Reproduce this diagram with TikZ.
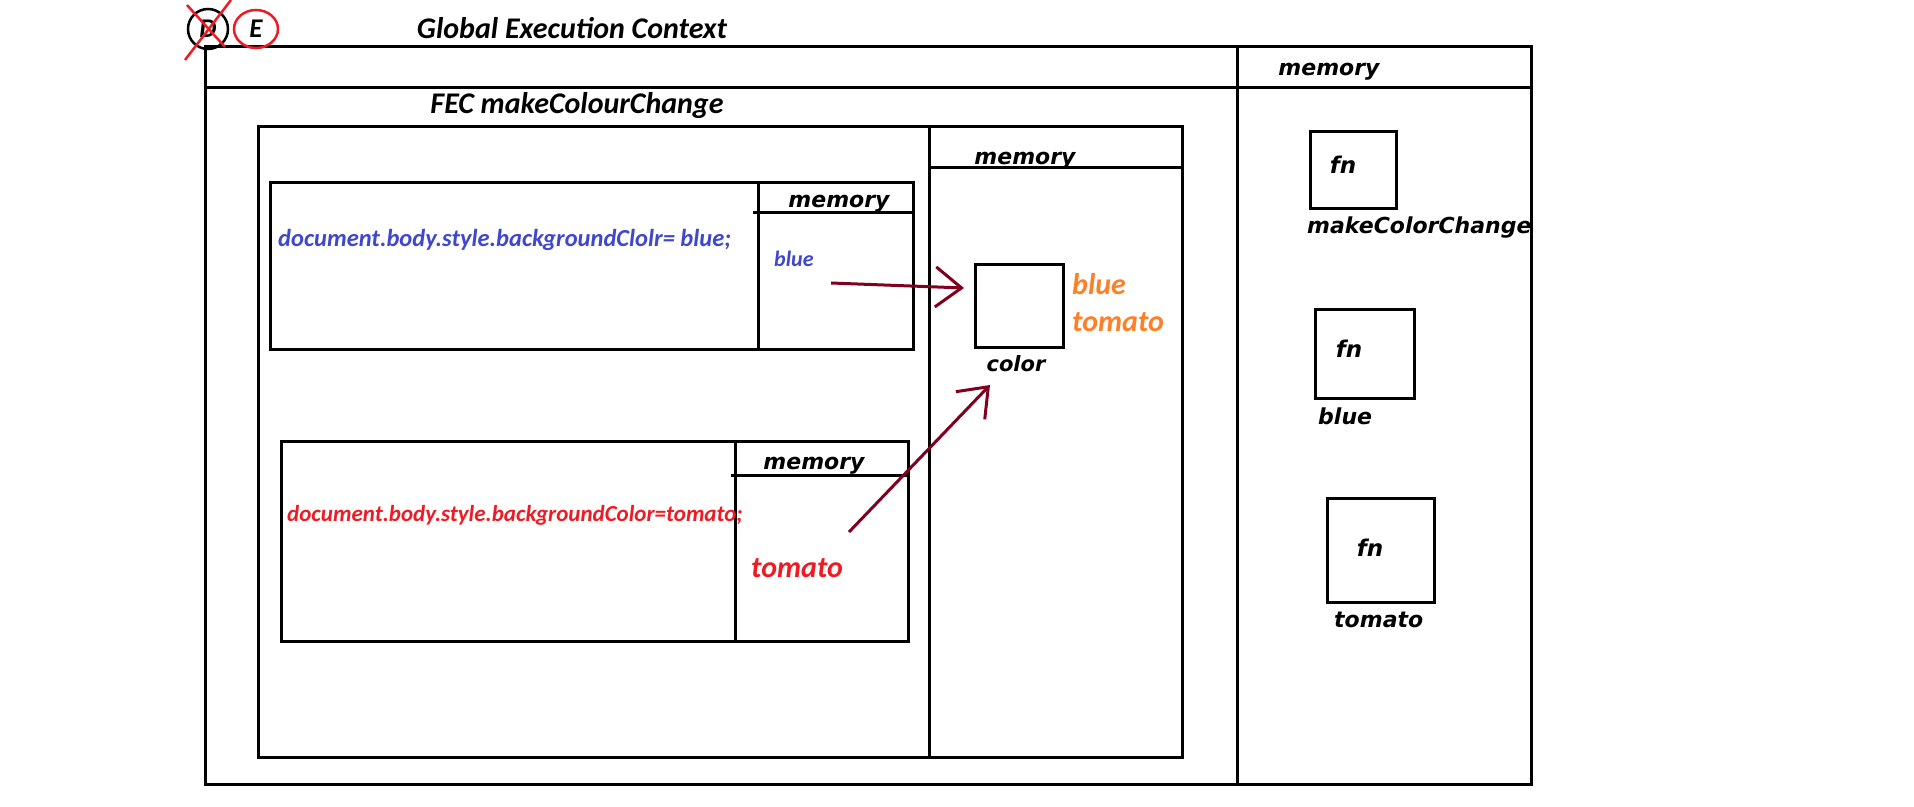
\documentclass[tikz,border=0pt]{standalone}
\usepackage{fontspec}
\setmainfont{Carlito}
\newfontfamily\verd{DejaVu Sans}
\usepackage{tikz}
\usetikzlibrary{arrows.meta,shapes.geometric}
\pgfdeclarelayer{edgelayer}
\pgfdeclarelayer{nodelayer}
\pgfsetlayers{edgelayer,nodelayer,main}
\definecolor{codeblue}{RGB}{63,72,204}
\definecolor{codered}{RGB}{237,28,36}
\definecolor{valorange}{RGB}{255,127,39}
\definecolor{arrowred}{RGB}{128,0,32}
\tikzstyle{frame}=[draw=black, line width=3pt]
\tikzstyle{title}=[inner sep=0pt, font=\fontsize{30}{33}\selectfont\bfseries\itshape]
\tikzstyle{memtext}=[inner sep=0pt, font=\verd\fontsize{22}{26}\selectfont\bfseries\itshape]
\tikzstyle{bluecode}=[inner sep=0pt, anchor=west, text=codeblue, font=\fontsize{24.5}{27}\selectfont\bfseries\itshape]
\tikzstyle{redcode}=[inner sep=0pt, anchor=west, text=codered, font=\fontsize{23}{26}\selectfont\bfseries\itshape]
\tikzstyle{orangeval}=[inner sep=0pt, anchor=west, text=valorange, font=\fontsize{30}{33}\selectfont\bfseries\itshape]
\tikzstyle{fnbox}=[draw=black, line width=3pt, rectangle, inner sep=0pt]
\tikzstyle{pointer}=[draw=arrowred, line width=3pt, -{Straight Barb[length=26pt,width=40pt,line width=3pt]}]

\begin{document}
\begin{tikzpicture}[x=1pt, y=-1pt]
	\useasboundingbox (0,0) rectangle (1914,806);
	\begin{pgfonlayer}{nodelayer}

	%D and E
		\node [circle, draw=black, line width=2.5pt, minimum size=40pt, inner sep=0pt, style=title, font=\fontsize{27}{30}\selectfont\bfseries\itshape] (1) at (208,29) {D};
		\node [ellipse, draw=codered, line width=2.5pt, minimum width=44pt, minimum height=38pt, inner sep=0pt, style=title, font=\fontsize{27}{30}\selectfont\bfseries\itshape] (2) at (256,29) {E};

	%GEC
		\node [style=title] (3) at (572,28) {Global Execution Context};
		\node [style=memtext] (4) at (1329,72) {memory};

	%FEC
		\node [style=title] (5) at (577,105) {FEC makeColourChange};
		\node [style=memtext] (6) at (1025,161) {memory};
		\node [fnbox, minimum width=88pt, minimum height=83pt] (7) at (1019,305.5) {};
		\node [style=memtext, font=\verd\fontsize{21}{24}\selectfont\bfseries\itshape] (8) at (1016,364) {color};
		\node [style=orangeval] (9) at (1072,284) {blue};
		\node [style=orangeval] (10) at (1072,322) {tomato};

	%blue box
		\node [style=memtext] (11) at (839,204) {memory};
		\node [style=bluecode] (12) at (278,240) {document.body.style.backgroundClolr= blue;};
		\node [style=bluecode, font=\fontsize{22}{25}\selectfont\bfseries\itshape] (13) at (774,259) {blue};

	%red box
		\node [style=memtext] (14) at (814,466) {memory};
		\node [style=redcode] (15) at (287,515) {document.body.style.backgroundColor=tomato;};
		\node [style=redcode, font=\fontsize{30}{33}\selectfont\bfseries\itshape] (16) at (751,568) {tomato};

	%global memory
		\node [fnbox, minimum width=86pt, minimum height=77pt] (17) at (1353,169.5) {};
		\node [style=memtext, font=\verd\fontsize{23}{26}\selectfont\bfseries\itshape] (18) at (1343,165) {fn};
		\node [style=memtext, anchor=west] (19) at (1307,228) {makeColorChange};
		\node [fnbox, minimum width=99pt, minimum height=89pt] (20) at (1364.5,353.5) {};
		\node [style=memtext, font=\verd\fontsize{23}{26}\selectfont\bfseries\itshape] (21) at (1349,349) {fn};
		\node [style=memtext, anchor=west] (22) at (1318,416) {blue};
		\node [fnbox, minimum width=107pt, minimum height=104pt] (23) at (1380.5,550) {};
		\node [style=memtext, font=\verd\fontsize{23}{26}\selectfont\bfseries\itshape] (24) at (1370,548) {fn};
		\node [style=memtext, anchor=west] (25) at (1334,620) {tomato};

	%arrow ends
		\coordinate (26) at (831,283);
		\coordinate (27) at (964,288);
		\coordinate (28) at (849,532);
		\coordinate (29) at (990,385);

	\end{pgfonlayer}
	\begin{pgfonlayer}{edgelayer}

		%GEC
		\draw [style=frame] (205,46) rectangle (1531,784);
		\draw [style=frame] (205,87) -- (1531,87);
		\draw [style=frame] (1237,46) -- (1237,784);

		%FEC
		\draw [style=frame] (258,126) rectangle (1182,757);
		\draw [style=frame] (929,126) -- (929,757);
		\draw [style=frame] (929,167) -- (1182,167);

		%blue box
		\draw [style=frame] (270,182) rectangle (913,349);
		\draw [style=frame] (758,182) -- (758,349);
		\draw [style=frame] (753,212) -- (913,212);

		%red box
		\draw [style=frame] (281,441) rectangle (908,641);
		\draw [style=frame] (735,441) -- (735,641);
		\draw [style=frame] (731,475) -- (908,475);

	\end{pgfonlayer}

		%crossed out D
		\draw [draw=codered, line width=2.5pt] (185,60) -- (231,0);
		\draw [draw=codered, line width=2.5pt] (187,5) -- (225,47);

		%pointers
		\draw [style=pointer] (26) -- (27);
		\draw [style=pointer] (28) -- (29);
\end{tikzpicture}
\end{document}
